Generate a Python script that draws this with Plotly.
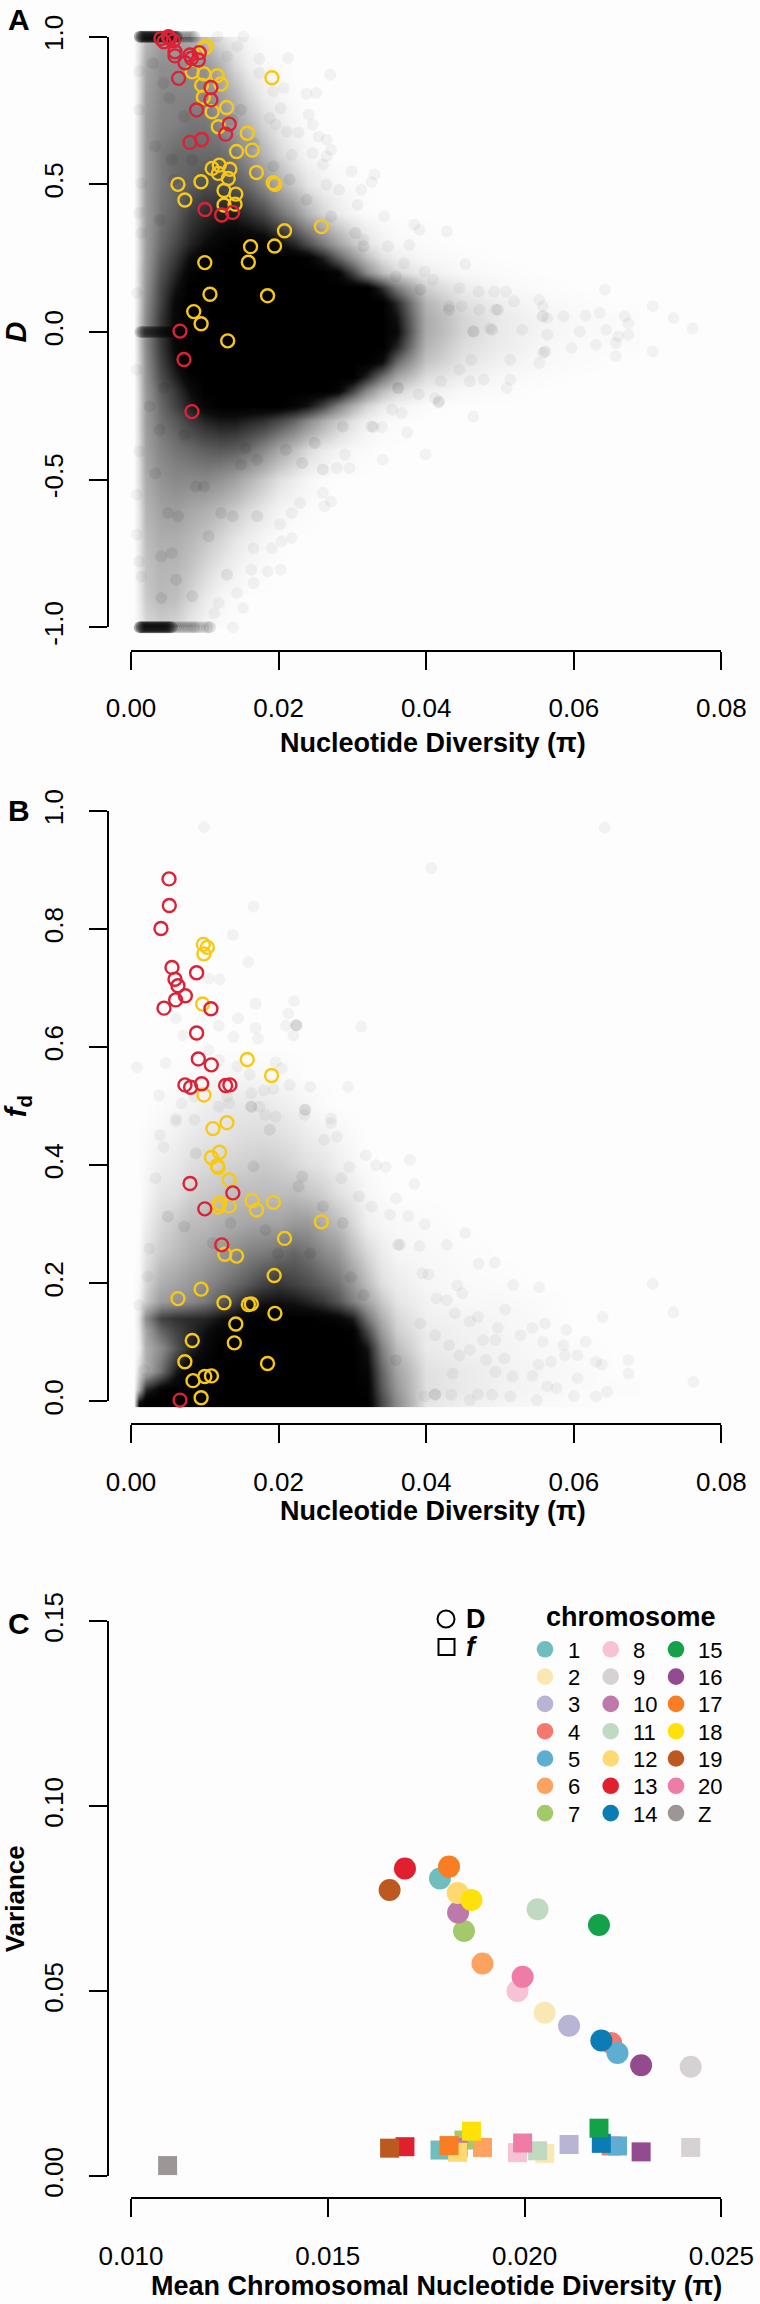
import plotly.graph_objects as go

BG = "#fdfdfd"
FONT = "Liberation Sans"
RED = "#DB2236"
YEL = "#F7C815"

# ---------- Panel A: window density (darkness 0-1) ----------
cloud_x = [.0004, .001, .002, .004, .006, .008, .010, .012, .014, .016, .018, .020, .022, .024, .026,
           .028, .030, .032, .034, .036, .040, .045, .050, .055, .060, .066]
a_y = [-1, -.9, -.8, -.7, -.6, -.5, -.4, -.3, -.25, -.2, -.15, -.1, -.05, 0, .05, .1, .15, .2, .25, .3, .4, .5, .6, .7, .8, .9, 1]
a_rows = [
    [0, .05, .14, .18, .15, .08, .03, .01],
    [0, .07, .20, .26, .24, .16, .08, .03, .01],
    [0, .08, .22, .28, .27, .22, .15, .09, .05, .02, .01],
    [0, .09, .25, .31, .31, .27, .22, .16, .10, .06, .03, .01],
    [0, .10, .28, .36, .38, .34, .31, .26, .20, .14, .09, .04, .02, .01],
    [0, .12, .32, .42, .46, .46, .46, .42, .36, .28, .20, .12, .07, .03, .01],
    [0, .13, .36, .48, .54, .58, .62, .64, .62, .56, .46, .34, .24, .14, .08, .04, .02, .01],
    [0, .14, .38, .55, .64, .74, .82, .86, .86, .82, .78, .70, .60, .46, .32, .20, .11, .05, .02, .01],
    [0, .14, .38, .58, .72, .84, .95, 1, 1, 1, 1, 1, .96, .88, .72, .50, .30, .16, .08, .04, .01],
    [0, .14, .40, .62, .76, .90, 1, 1, 1, 1, 1, 1, 1, 1, 1, .96, .72, .46, .26, .15, .06, .02, .01],
    [0, .16, .42, .68, .84, .97, 1, 1, 1, 1, 1, 1, 1, 1, 1, 1, 1, .82, .56, .34, .13, .06, .02, .01],
    [0, .16, .44, .72, .90, 1, 1, 1, 1, 1, 1, 1, 1, 1, 1, 1, 1, 1, .92, .58, .22, .10, .05, .02, .01],
    [0, .18, .46, .75, .94, 1, 1, 1, 1, 1, 1, 1, 1, 1, 1, 1, 1, 1, 1, .82, .28, .13, .07, .03, .01, .01],
    [0, .18, .46, .76, .94, 1, 1, 1, 1, 1, 1, 1, 1, 1, 1, 1, 1, 1, 1, .92, .32, .16, .08, .04, .02, .01],
    [0, .18, .46, .76, .94, 1, 1, 1, 1, 1, 1, 1, 1, 1, 1, 1, 1, 1, 1, .88, .32, .16, .08, .04, .02, .01],
    [0, .16, .44, .72, .94, 1, 1, 1, 1, 1, 1, 1, 1, 1, 1, 1, 1, 1, 1, .80, .28, .12, .06, .02, .01],
    [0, .16, .42, .70, .88, 1, 1, 1, 1, 1, 1, 1, 1, 1, 1, 1, 1, 1, .80, .52, .18, .07, .02, .01],
    [0, .16, .40, .66, .82, .97, 1, 1, 1, 1, 1, 1, 1, 1, 1, .95, .72, .46, .26, .15, .06, .02, .01],
    [0, .14, .38, .62, .76, .90, .98, 1, 1, 1, 1, 1, 1, .98, .84, .62, .42, .24, .12, .06, .02, .01],
    [0, .14, .38, .58, .70, .82, .90, .96, 1, 1, .98, .90, .82, .68, .52, .36, .22, .11, .05, .02, .01],
    [0, .14, .38, .54, .62, .74, .80, .84, .84, .78, .70, .56, .44, .28, .16, .08, .03, .01],
    [0, .14, .38, .52, .58, .62, .68, .68, .64, .58, .46, .32, .20, .10, .05, .02, .01],
    [0, .14, .38, .52, .58, .58, .58, .58, .52, .42, .28, .16, .08, .03, .01],
    [0, .14, .38, .48, .50, .54, .54, .48, .38, .28, .16, .08, .03, .01],
    [0, .12, .36, .46, .48, .48, .46, .38, .28, .16, .07, .03, .01],
    [0, .12, .34, .44, .44, .44, .42, .30, .15, .06, .02, .01],
    [0, .10, .26, .36, .36, .30, .24, .12, .05, .02],
]

a_dot_x = [.0117, .0152, .0144, .0174, .0213, .0130, .0270, .0174, .0207, .0238, .0251, .0193, .0203, .0188, .0241,
           .0246, .0196, .0211, .0227, .0254, .0265, .0271, .0265, .0260, .0246, .0218, .0299, .0330, .0326, .0312,
           .0282, .0265, .0307, .0343, .0384, .0391, .0428, .0377, .0453, .0315, .0348, .0370, .0398, .0409, .0445,
           .0471, .0492, .0508, .0553, .0642, .0707, .0735, .0761, .0674, .0669, .0635, .0616, .0586, .0519, .0494,
           .0558, .0564, .0472, .0448, .0431, .0464, .0486, .0530, .0564, .0608, .0644, .0660, .0674,
           .0707, .0657, .0657, .0630, .0597, .0558, .0553, .0514, .0461, .0445, .0420, .0459, .0478, .0514, .0509,
           .0412, .0417, .0464, .0367, .0354, .0390, .0362, .0374, .0329, .0340, .0399, .0341, .0296, .0279, .0290,
           .0260, .0271, .0262, .0229, .0218, .0202, .0218, .0204, .0191, .0166, .0203, .0185, .0163, .0166, .0144,
           .0152, .0138, .0119, .0113, .0105, .0086, .0008, .0008, .0011, .0014, .0011, .0008, .0011, .0011, .0014,
           .0011, .0014, .0008]
a_dot_y = [1.0, 1.0, .967, .925, .928, .933, .871, .877, .826, .807, .809, .815, .758, .725, .736,
           .702, .702, .679, .676, .662, .651, .617, .595, .567, .606, .600, .544, .533, .508, .482,
           .482, .499, .431, .392, .363, .346, .341, .295, .230, .312, .290, .233, .205, .177, .149,
           .137, .137, .137, .109, .143, .087, .047, .013, .030, .053, .064, .055, .053, .104, .075,
           .087, .047, .075, .087, .087, .002, .013, .008, -.009, .002, .008, -.015, -.009,
           -.066, -.082, -.037, -.043, -.054, -.071, -.105, -.094, -.094, -.128, -.167, -.167, -.161, -.161, -.190,
           -.224, -.240, -.286, -.274, -.263, -.212, -.190, -.340, -.322, -.322, -.415, -.432, -.461, -.461, -.415,
           -.545, -.574, -.590, -.579, -.613, -.652, -.698, -.709, -.732, -.732, -.805, -.811, -.805, -.850, -.884,
           -.935, -1.0, -.918, -.952, -1.0, -1.0, -.551, -.686, -.777, -.828, -.404, -.128, .883, .753, .504,
           .403, .335, .132]

# darker blotches visible inside the cloud
a_blot_x = [.0039, .0072, .0155, .0149, .0088, .0050, .0064, .0041, .0061, .0041, .0025, .0044, .0362, .0417, .0464,
            .0489, .0561, .0232, .0260, .0122, .0138, .0105, .0130, .0055, .0083, .0099, .0171, .0033, .0171, .0210,
            .0249, .0287, .0326, .0030, .0052, .0055, .0039, .0044, .0072, .0083, .0033, .0058, .0138, .0149, .0166,
            .0193, .0215, .0238, .0271, .0304, .0315, .0359, .0392, .0431, .0497, .0558]
a_blot_y = [-.331, -.348, -.393, -.449, -.523, -.613, -.624, -.760, -.839, -.901, -.252, -.190, -.190, -.235, .002,
            .008, -.066, -.444, -.466, -.613, -.624, -.692, -.822, -.749, -.895, -.523, -.624, -.478, -.432, -.399,
            -.376, -.320, -.320, .911, .792, .583, .380, .843, .730, .583, .629, .516, .719, .753, .640,
            .561, .516, .448, .391, .335, .290, .188, .143, .075, .075, .053]

# windows sitting exactly on D = 1, 0 and -1
band_top_x = [.0012, .00145, .0017, .00195, .0022, .00245, .0027, .00295, .0032, .00345, .0037, .00395, .0042, .00445,
              .0047, .00495, .0052, .00545, .0057, .00595, .0062]
band_top_y = [1] * len(band_top_x)
fade_top_x = [.0065, .0068, .0071, .0074, .0077, .0080, .0083, .0086]
fade_top_y = [1] * len(fade_top_x)
band_mid_x = [.0013, .00155, .0018, .00205, .0023, .00255, .0028, .00305, .0033, .00355, .0038, .00405, .0043, .00455,
              .0048, .00505, .0053, .0056]
band_mid_y = [0] * len(band_mid_x)
band_low_x = [.0012, .00145, .0017, .00195, .0022, .00245, .0027, .00295, .0032, .00345, .0037, .00395, .0042, .00445,
              .0047, .00495, .0052, .0055]
band_low_y = [-1] * len(band_low_x)
fade_low_x = [.0058, .0061, .0064, .0067, .0070, .0073, .0076, .0079, .0082, .0085, .0089, .0093, .0098, .0103, .0107]
fade_low_y = [-1] * len(fade_low_x)

a_yel_x = [.01025, .00988, .0191, .0083, .00988, .01169, .00957, .01219, .0098, .01295, .0110, .01183, .01575,
           .0143, .01643, .0170, .01196, .0110, .0134, .01183, .01318, .00636, .00948, .01927, .0195, .0126, .0142,
           .0073, .0126, .0141, .0208, .0258, .0162, .01945, .0100, .0159, .0107, .0185, .0085, .0095, .0131]
a_yel_y = [.968, .960, .861, .881, .874, .868, .836, .840, .795, .760, .746, .695, .673,
           .611, .616, .540, .565, .554, .551, .537, .520, .500, .509, .506, .500, .479, .467,
           .447, .430, .433, .343, .357, .289, .291, .235, .236, .128, .123, .069, .028, -.030]
a_red_x = [.00406, .00447, .00506, .00528, .00573, .00596, .00596, .0080, .00925, .00731, .00912, .0082, .00645,
           .01083, .01083, .00889, .01332, .01282, .00799, .00957, .01002, .01228, .01377, .00664, .00718, .00826]
a_red_y = [.994, .983, 1.0, .994, .986, .949, .935, .938, .946, .912, .921, .927, .859,
           .828, .786, .752, .704, .670, .642, .652, .415, .396, .405, .003, -.093, -.2695]

# ---------- Panel B ----------
b_y = [-.01, 0, .02, .05, .09, .12, .14, .17, .20, .25, .30, .35, .40, .45, .50, .55, .60]
b_rows = [
    [0, .95, 1, 1, 1, 1, 1, 1, 1, 1, 1, 1, 1, 1, 1, 1, 1, 1, .70, .45, .10, .06, .03, .02, .01],
    [0, .85, 1, 1, 1, 1, 1, 1, 1, 1, 1, 1, 1, 1, 1, 1, 1, 1, .70, .45, .10, .06, .04, .02, .01],
    [0, .30, .80, .97, 1, 1, 1, 1, 1, 1, 1, 1, 1, 1, 1, 1, 1, .98, .65, .40, .12, .08, .05, .03, .01, .01],
    [0, .15, .30, .55, .85, .98, 1, 1, 1, 1, 1, 1, 1, 1, 1, 1, 1, .95, .60, .35, .12, .08, .05, .03, .02],
    [0, .05, .30, .45, .65, .82, .92, 1, 1, 1, 1, 1, 1, 1, 1, 1, 1, .88, .50, .25, .08, .05, .04, .02, .01],
    [0, .08, .35, .60, .72, .80, .88, .96, 1, 1, 1, 1, 1, 1, 1, 1, .98, .70, .38, .18, .07, .05, .03, .015],
    [0, .10, .45, .72, .78, .80, .82, .88, .92, .97, 1, 1, 1, 1, .98, .95, .85, .55, .30, .15, .06, .04, .03, .015],
    [0, .04, .20, .38, .42, .46, .52, .62, .72, .82, .87, .88, .87, .82, .76, .66, .50, .35, .20, .10, .04, .02, .02, .01],
    [0, .02, .15, .30, .35, .40, .45, .52, .58, .64, .72, .76, .72, .68, .62, .55, .40, .25, .12, .07, .03, .015, .01],
    [0, .01, .10, .20, .25, .30, .35, .40, .45, .50, .52, .56, .60, .55, .47, .40, .25, .15, .07, .03, .02, .01],
    [0, 0, .06, .15, .20, .25, .26, .30, .32, .35, .36, .36, .40, .40, .32, .25, .15, .06, .03, .02, .01],
    [0, 0, .03, .10, .12, .17, .20, .22, .25, .25, .25, .25, .25, .22, .18, .12, .08, .03, .01],
    [0, 0, .02, .06, .08, .12, .14, .16, .17, .18, .20, .18, .15, .12, .10, .06, .03, .01],
    [0, 0, .01, .03, .05, .08, .10, .10, .12, .13, .13, .12, .10, .07, .05, .03, .01],
    [0, 0, 0, .01, .02, .04, .06, .08, .09, .09, .09, .07, .05, .03, .01],
    [0, 0, 0, 0, .005, .01, .02, .025, .03, .03, .02, .02, .01],
    [0],
]

b_dot_x = [.0099, .0642, .0407, .0166, .0138, .0159, .0120, .0105, .0169, .0221, .0213, .0224, .0224, .0210, .0220,
           .0312, .0145, .0061, .0119, .0169, .0139, .0172, .0071, .0008, .0047, .0105, .0119, .0144, .0196, .0204,
           .0161, .0215, .0243, .0294, .0038, .0180, .0193, .0163, .0086, .0069, .0130, .0133, .0163, .0174, .0236,
           .0119, .0061, .0086, .0182, .0196, .0235, .0271,
           .0378, .0384, .0359, .0376, .0398, .0453, .0391, .0428, .0365, .0471, .0493, .0707, .0518, .0553, .0442,
           .0449, .0735, .0639, .0507, .0470, .0459, .0439, .0414, .0428, .0395, .0403, .0561, .0544, .0528, .0497,
           .0590, .0616, .0586, .0558, .0477, .0494, .0459, .0674, .0630, .0638, .0605, .0588, .0569, .0552, .0506,
           .0481, .0445, .0431, .0412, .0392, .0674, .0762, .0605, .0544, .0517, .0494, .0436, .0577, .0564, .0600,
           .0630, .0645, .0550, .0489, .0470, .0459, .0412, .0434, .0514, .0398,
           .0033, .0025, .0039, .0044, .0061, .0279, .0318, .0332, .0345, .0271, .0262, .0296, .0285, .0309, .0326,
           .0351, .0022, .0011, .0018]
b_dot_y = [.973, .972, .903, .838, .790, .744, .715, .716, .674, .678, .657, .637, .637, .636, .620,
           .635, .649, .649, .636, .632, .617, .614, .620, .566, .573, .595, .578, .567, .575, .564,
           .553, .536, .533, .533, .518, .527, .529, .522, .516, .505, .516, .505, .499, .499, .494,
           .499, .479, .477, .485, .482, .485, .479,
           .409, .368, .344, .314, .300, .285, .263, .265, .265, .233, .235, .199, .197, .193, .196,
           .183, .151, .143, .155, .143, .135, .149, .174, .171, .217, .215, .132, .124, .112, .124,
           .121, .101, .095, .101, .104, .104, .087, .070, .067, .062, .078, .078, .067, .062, .073,
           .070, .078, .095, .112, .132, .047, .033, .039, .043, .042, .050, .047, .022, .025, .009,
           .008, .016, .002, .011, .012, .002, .012, .011, .008, .008,
           .378, .259, .451, .431, .474, .448, .417, .400, .397, .471, .443, .397, .378, .347, .330,
           .316, .211, .163, .053]

b_blot_x = [.0227, .0135, .0182, .0243, .0287, .0199, .0188, .0111, .0072, .0050, .0362, .0232, .0166, .0088, .0359,
            .0412, .0224, .0236, .0163, .0298, .0315, .0260]
b_blot_y = [.364, .302, .290, .251, .302, .251, .460, .268, .296, .313, .265, .381, .398, .420, .070,
            .011, .637, .494, .499, .210, .180, .330]

b_yel_x = [.0098, .01034, .00988, .0097, .01575, .01905, .00988, .0130, .0111, .0120, .0109, .0117, .0118, .0133,
           .0164, .0193, .0170, .0120, .0133, .0118, .0258, .0208, .0127, .0143, .0194, .0095, .00636, .0126, .0159,
           .0163, .0195, .0142, .0083, .0140, .0073, .0185, .0084, .0100, .0109, .0095]
b_yel_y = [.774, .769, .758, .673, .579, .552, .519, .472, .462, .422, .413, .399, .396, .375,
           .340, .337, .324, .335, .331, .329, .304, .276, .249, .246, .213, .190, .174, .167, .164,
           .165, .149, .131, .103, .099, .067, .064, .035, .042, .043, .006]
b_red_x = [.00515, .00519, .00406, .00555, .00889, .00596, .00636, .00736, .00605, .00447, .01083, .00889, .00912,
           .01088, .00731, .00808, .00957, .01282, .0134, .0080, .0138, .0100, .0123, .00664]
b_red_y = [.885, .840, .801, .735, .726, .715, .704, .687, .680, .666, .665, .624, .580,
           .570, .536, .532, .538, .535, .536, .369, .353, .326, .265, .002]

# ---------- Panel C ----------
chroms = ["1", "2", "3", "4", "5", "6", "7", "8", "9", "10", "11", "12", "13", "14", "15", "16", "17", "18", "19", "20", "Z"]
chrom_colors = ["#6FBDBC", "#FAE8B4", "#B8B4D4", "#F4786D", "#5FADD0", "#FDA35F", "#A3C96B", "#F7C1D6", "#D6D2D3",
                "#BC79A9", "#C0DAC1", "#FED96F", "#E0202F", "#0C7CB5", "#13A14A", "#944A8E", "#F97D22", "#FFE10A",
                "#BB5920", "#EE7CA7", "#9C9696"]
mean_pi = [.01785, .02051, .02113, .02220, .02236, .01893, .01846, .01982, .02422, .01831, .02033, .01830, .01696,
           .02195, .02189, .02296, .01808, .01865, .01657, .01995, .01093]
var_d = [.0805, .0442, .0407, .0360, .0333, .0575, .0663, .0501, .0296, .0713, .0722, .0766, .0832,
         .0367, .0679, .0300, .0837, .0747, .0774, .0539, .1525]
var_f = [.0071, .0062, .0086, .0082, .0082, .0078, .0098, .0064, .0078, .0078, .0069, .0065, .0080,
         .0089, .0130, .0066, .0083, .0122, .0076, .0090, .0029]

# tick labels
x_ticks_ab = [0, .02, .04, .06, .08]
x_text_ab = ["0.00", "0.02", "0.04", "0.06", "0.08"]
a_ticks = [-1, -.5, 0, .5, 1]
a_text = ["-1.0", "-0.5", "0.0", "0.5", "1.0"]
b_ticks = [0, .2, .4, .6, .8, 1]
b_text = ["0.0", "0.2", "0.4", "0.6", "0.8", "1.0"]
c_x_ticks = [.010, .015, .020, .025]
c_x_text = ["0.010", "0.015", "0.020", "0.025"]
c_y_ticks = [0, .05, .10, .15]
c_y_text = ["0.00", "0.05", "0.10", "0.15"]

W, H = 760, 2304
AX_L, AX_R = 131, 721.4
YAX = 108


def fx(px):
    return px / W


def fy(py):
    return 1 - py / H


def pad(rows):
    return [r + [0] * (len(cloud_x) - len(r)) for r in rows]


SCALE = [[0, BG], [.1, "#e6e5e5"], [.25, "#bdbcbc"], [.5, "#808080"], [.75, "#3a3a3a"], [.9, "#0c0c0c"], [1, "#000000"]]


def density(y, rows, xa, ya):
    return go.Heatmap(x=cloud_x, y=y, z=pad(rows), zmin=0, zmax=1, colorscale=SCALE, zsmooth="best",
                      showscale=False, xaxis=xa, yaxis=ya, hoverinfo="skip")


def dots(x, y, xa, ya, op=.045, size=12):
    return go.Scatter(x=x, y=y, mode="markers", xaxis=xa, yaxis=ya, cliponaxis=False, hoverinfo="skip",
                      marker=dict(size=size, color="black", opacity=op, line=dict(width=0)))


def rings(x, y, color, xa, ya):
    return go.Scatter(x=x, y=y, mode="markers", xaxis=xa, yaxis=ya, cliponaxis=False,
                      marker=dict(symbol="circle-open", size=13, color=color, line=dict(width=2.4, color=color)))


fig = go.Figure()
fig.add_trace(density(a_y, a_rows, "x", "y"))
fig.add_trace(dots(a_dot_x, a_dot_y, "x", "y"))
fig.add_trace(dots(a_blot_x, a_blot_y, "x", "y", op=.07))
fig.add_trace(dots(band_top_x, band_top_y, "x", "y", op=.32))
fig.add_trace(dots(fade_top_x, fade_top_y, "x", "y", op=.10))
fig.add_trace(dots(band_mid_x, band_mid_y, "x", "y", op=.17))
fig.add_trace(dots(band_low_x, band_low_y, "x", "y", op=.32))
fig.add_trace(dots(fade_low_x, fade_low_y, "x", "y", op=.09))
fig.add_trace(rings(a_yel_x, a_yel_y, YEL, "x", "y"))
fig.add_trace(rings(a_red_x, a_red_y, RED, "x", "y"))

# density on hidden y2 (runs just below fd = 0), marks on the visible y4
fig.add_trace(density(b_y, b_rows, "x2", "y2"))
fig.add_trace(dots(b_dot_x, b_dot_y, "x2", "y4"))
fig.add_trace(dots(b_blot_x, b_blot_y, "x2", "y4", op=.07))
fig.add_trace(rings(b_yel_x, b_yel_y, YEL, "x2", "y4"))
fig.add_trace(rings(b_red_x, b_red_y, RED, "x2", "y4"))

for i in range(len(chroms)):
    fig.add_trace(go.Scatter(x=[mean_pi[i]], y=[var_f[i]], mode="markers", name=chroms[i], xaxis="x3", yaxis="y3",
                             cliponaxis=False, marker=dict(symbol="square", size=19, color=chrom_colors[i], line=dict(width=0))))
for i in range(len(chroms)):
    fig.add_trace(go.Scatter(x=[mean_pi[i]], y=[var_d[i]], mode="markers", name=chroms[i], xaxis="x3", yaxis="y3",
                             cliponaxis=False, marker=dict(symbol="circle", size=22, color=chrom_colors[i], line=dict(width=0))))

TF = dict(family=FONT, size=26, color="black")


def xaxis(rng, axis_py, ticks, text):
    return dict(domain=[fx(AX_L), fx(AX_R)], range=rng, anchor="free", position=fy(axis_py),
                side="bottom", showgrid=False, zeroline=False, showline=True, linecolor="black", linewidth=2,
                ticks="outside", ticklen=18, tickwidth=2, tickcolor="black", tickvals=ticks, ticktext=text,
                tickfont=TF, ticklabelstandoff=16, automargin=False)


def yaxis(rng, top, bottom, ticks, text, title, standoff, size=26):
    return dict(domain=[fy(bottom), fy(top)], range=rng, anchor="free", position=fx(YAX), side="left",
                showgrid=False, zeroline=False, showline=True, linecolor="black", linewidth=2,
                ticks="outside", ticklen=18, tickwidth=2, tickcolor="black", tickvals=ticks, ticktext=text,
                tickfont=TF, tickangle=-90, ticklabelstandoff=16, automargin=False,
                title=dict(text=title, font=dict(family=FONT, size=size, color="black"), standoff=standoff))


fig.update_layout(
    width=W, height=H, margin=dict(l=0, r=0, t=0, b=0), paper_bgcolor=BG, plot_bgcolor="rgba(0,0,0,0)", showlegend=False,
    font=dict(family=FONT, color="black"),
    xaxis=xaxis([0, .08], 651, x_ticks_ab, x_text_ab),
    yaxis=yaxis([-1, 1], 36.7, 627.3, a_ticks, a_text, "<b><i>D</i></b>", 20, 29),
    xaxis2=xaxis([0, .08], 1424.3, x_ticks_ab, x_text_ab),
    yaxis2=dict(domain=[fy(1407.2), fy(811)], range=[-.01, 1], anchor="free", position=fx(YAX), visible=False),
    yaxis4=yaxis([0, 1], 811, 1401.3, b_ticks, b_text, "<b><i>f</i><sub>d</sub></b>", 20, 29),
    xaxis3=xaxis([.010, .025], 2198.3, c_x_ticks, c_x_text),
    yaxis3=yaxis([0, .15], 1621.3, 2176.3, c_y_ticks, c_y_text, "<b>Variance</b>", 20),
)

ann = []
shapes = []
for letter, py in (("A", 19), ("B", 810), ("C", 1623)):
    ann.append(dict(text="<b>%s</b>" % letter, xref="paper", yref="paper", x=fx(19), y=fy(py), showarrow=False,
                    xanchor="center", yanchor="middle", font=dict(family=FONT, size=30, color="black")))
for title, px, py in (("Nucleotide Diversity (π)", 433, 743), ("Nucleotide Diversity (π)", 433, 1511),
                      ("Mean Chromosomal Nucleotide Diversity (π)", 436, 2286)):
    ann.append(dict(text="<b>%s</b>" % title, xref="paper", yref="paper", x=fx(px), y=fy(py), showarrow=False,
                    xanchor="center", yanchor="middle", font=dict(family=FONT, size=27, color="black")))

# chromosome key
COL_X = [545, 610.7, 676]
TXT_X = [565.7, 631, 696]
ROW0, ROW_STEP = 1649.3, 27.3
for i, (name, col) in enumerate(zip(chroms, chrom_colors)):
    c, r = divmod(i, 7)
    cx, cy = COL_X[c], ROW0 + r * ROW_STEP
    shapes.append(dict(type="circle", xref="paper", yref="paper", x0=fx(cx - 8.3), x1=fx(cx + 8.3),
                       y0=fy(cy + 8.3), y1=fy(cy - 8.3), fillcolor=col, line=dict(width=0)))
    ann.append(dict(text=name, xref="paper", yref="paper", x=fx(TXT_X[c]), y=fy(cy + 1), showarrow=False,
                    xanchor="left", yanchor="middle", font=dict(family=FONT, size=22, color="black")))
ann.append(dict(text="<b>chromosome</b>", xref="paper", yref="paper", x=fx(631), y=fy(1617), showarrow=False,
                xanchor="center", yanchor="middle", font=dict(family=FONT, size=27, color="black")))
shapes.append(dict(type="circle", xref="paper", yref="paper", x0=fx(437.5), x1=fx(454.5), y0=fy(1627.5), y1=fy(1610.5),
                   line=dict(width=2, color="black"), fillcolor="rgba(0,0,0,0)"))
shapes.append(dict(type="rect", xref="paper", yref="paper", x0=fx(438.5), x1=fx(454.5), y0=fy(1655), y1=fy(1639),
                   line=dict(width=2, color="black"), fillcolor="rgba(0,0,0,0)"))
ann.append(dict(text="<b>D</b>", xref="paper", yref="paper", x=fx(464), y=fy(1619), showarrow=False,
                xanchor="left", yanchor="middle", font=dict(family=FONT, size=27, color="black")))
ann.append(dict(text="<b><i>f</i></b>", xref="paper", yref="paper", x=fx(464), y=fy(1647), showarrow=False,
                xanchor="left", yanchor="middle", font=dict(family=FONT, size=27, color="black")))
fig.update_layout(annotations=ann, shapes=shapes)

fig.write_html("out.html", config=dict(displayModeBar=False),
               post_script="document.body.style.margin='0';document.body.style.background='%s';" % BG)
